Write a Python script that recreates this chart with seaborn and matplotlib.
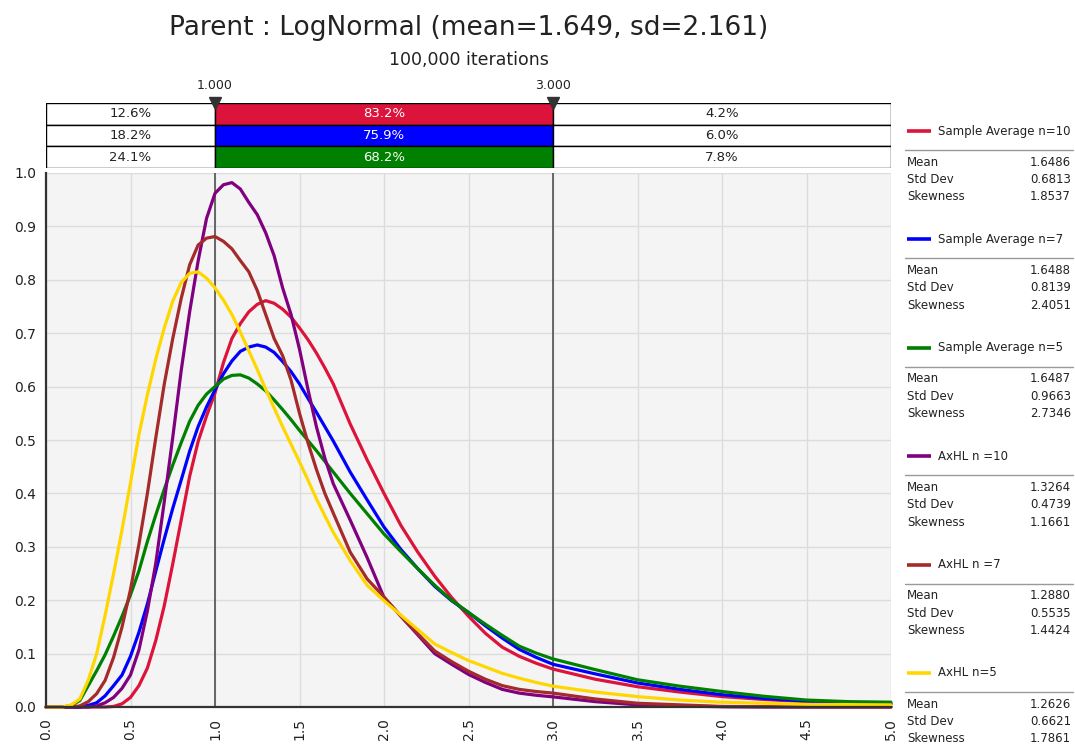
import numpy as np
import pandas as pd
import matplotlib
matplotlib.use("Agg")
import matplotlib.pyplot as plt
import seaborn as sns

# ---------------- data ----------------
x_vals = [0.0, 0.1, 0.15, 0.2, 0.25, 0.3, 0.35, 0.4, 0.45, 0.5,
          0.55, 0.6, 0.65, 0.7, 0.75, 0.8, 0.85, 0.9, 0.95, 1.0,
          1.05, 1.1, 1.15, 1.2, 1.25, 1.3, 1.35, 1.4, 1.45, 1.5,
          1.55, 1.6, 1.65, 1.7, 1.8, 1.9, 2.0, 2.1, 2.2, 2.3,
          2.4, 2.5, 2.6, 2.7, 2.8, 2.9, 3.0, 3.25, 3.5, 3.75,
          4.0, 4.25, 4.5, 4.75, 5.0]

sa10 = [0, 0, 0, 0, 0, 0, 0, 0.001, 0.006, 0.018,
        0.04, 0.073, 0.125, 0.19, 0.268, 0.35, 0.432, 0.497, 0.545, 0.588,
        0.645, 0.69, 0.718, 0.74, 0.754, 0.761, 0.756, 0.745, 0.73, 0.71,
        0.688, 0.663, 0.635, 0.605, 0.53, 0.463, 0.40, 0.34, 0.29, 0.245,
        0.205, 0.17, 0.138, 0.112, 0.095, 0.082, 0.071, 0.052, 0.038, 0.028,
        0.0195, 0.014, 0.01, 0.007, 0.005]
sa7 = [0, 0, 0, 0, 0.003, 0.008, 0.021, 0.04, 0.06, 0.095,
       0.14, 0.193, 0.255, 0.315, 0.372, 0.425, 0.479, 0.525, 0.562, 0.594,
       0.624, 0.648, 0.666, 0.674, 0.678, 0.674, 0.664, 0.647, 0.628, 0.605,
       0.578, 0.552, 0.525, 0.498, 0.44, 0.388, 0.337, 0.295, 0.259, 0.226,
       0.199, 0.177, 0.152, 0.129, 0.108, 0.093, 0.08, 0.062, 0.045, 0.033,
       0.023, 0.016, 0.011, 0.008, 0.006]
sa5 = [0, 0, 0.003, 0.012, 0.04, 0.068, 0.098, 0.133, 0.17, 0.21,
       0.255, 0.31, 0.36, 0.408, 0.453, 0.495, 0.535, 0.565, 0.586, 0.60,
       0.614, 0.621, 0.622, 0.616, 0.605, 0.592, 0.575, 0.557, 0.538, 0.518,
       0.499, 0.48, 0.46, 0.44, 0.40, 0.362, 0.324, 0.291, 0.259, 0.228,
       0.2, 0.177, 0.155, 0.134, 0.114, 0.101, 0.09, 0.07, 0.051, 0.039,
       0.029, 0.02, 0.013, 0.01, 0.009]
ax10 = [0, 0, 0, 0, 0, 0.002, 0.008, 0.018, 0.035, 0.06,
        0.107, 0.18, 0.27, 0.385, 0.505, 0.63, 0.74, 0.835, 0.915, 0.962,
        0.978, 0.982, 0.97, 0.945, 0.922, 0.888, 0.845, 0.785, 0.735, 0.67,
        0.595, 0.525, 0.466, 0.418, 0.35, 0.28, 0.205, 0.17, 0.135, 0.1,
        0.08, 0.061, 0.046, 0.033, 0.026, 0.022, 0.019, 0.01, 0.004, 0.002,
        0.0005, 0, 0, 0, 0]
ax7 = [0, 0, 0, 0.002, 0.01, 0.025, 0.05, 0.093, 0.15, 0.22,
       0.305, 0.40, 0.505, 0.605, 0.69, 0.765, 0.828, 0.865, 0.878, 0.881,
       0.872, 0.858, 0.836, 0.815, 0.78, 0.735, 0.69, 0.658, 0.612, 0.55,
       0.495, 0.445, 0.40, 0.363, 0.29, 0.24, 0.206, 0.17, 0.137, 0.105,
       0.085, 0.067, 0.052, 0.04, 0.033, 0.029, 0.026, 0.015, 0.007, 0.004,
       0.001, 0.0005, 0, 0, 0]
ax5 = [0, 0, 0.004, 0.015, 0.05, 0.10, 0.172, 0.25, 0.332, 0.42,
       0.51, 0.585, 0.652, 0.71, 0.76, 0.795, 0.812, 0.815, 0.803, 0.785,
       0.762, 0.735, 0.702, 0.667, 0.632, 0.595, 0.56, 0.525, 0.492, 0.459,
       0.425, 0.39, 0.358, 0.327, 0.274, 0.228, 0.199, 0.172, 0.145, 0.118,
       0.102, 0.087, 0.075, 0.063, 0.054, 0.046, 0.039, 0.028, 0.0195, 0.013,
       0.009, 0.007, 0.005, 0.0045, 0.004]

series_names = ["Sample Average n=10", "Sample Average n=7", "Sample Average n=5",
                "AxHL n =10", "AxHL n =7", "AxHL n=5"]
series_values = [sa10, sa7, sa5, ax10, ax7, ax5]
colors = ["#DC143C", "#0000FF", "#008000", "#800080", "#A52A2A", "#FFD700"]

means = [1.6486, 1.6488, 1.6487, 1.3264, 1.2880, 1.2626]
sds = [0.6813, 0.8139, 0.9663, 0.4739, 0.5535, 0.6621]
skews = [1.8537, 2.4051, 2.7346, 1.1661, 1.4424, 1.7861]

pct_left = [12.6, 18.2, 24.1]
pct_mid = [83.2, 75.9, 68.2]
pct_right = [4.2, 6.0, 7.8]
lo_mark, hi_mark = 1.0, 3.0
x_min, x_max = 0.0, 5.0

x_ticks = [0.0, 0.5, 1.0, 1.5, 2.0, 2.5, 3.0, 3.5, 4.0, 4.5, 5.0]
y_ticks = [0.0, 0.1, 0.2, 0.3, 0.4, 0.5, 0.6, 0.7, 0.8, 0.9, 1.0]

title = "Parent : LogNormal (mean=1.649, sd=2.161)"
subtitle = "100,000 iterations"

# ---------------- style ----------------
sns.set_theme(style="white")
plt.rcParams["font.family"] = ["DejaVu Sans"]
TXT = "#222222"

W, H = 1075, 746
fig = plt.figure(figsize=(W / 100, H / 100), dpi=100)

# overlay panel in pixel coords (for the stats panel)
axp = fig.add_axes([0, 0, 1, 1])
axp.set_xlim(0, W)
axp.set_ylim(H, 0)
axp.axis("off")

# main axes
L, R, T, B = 46, 891, 173, 707
ax = fig.add_axes([L / W, 1 - B / H, (R - L) / W, (B - T) / H])
ax.set_facecolor("#F4F4F4")

df = pd.concat([
    pd.DataFrame({"x": x_vals, "density": vals, "series": name})
    for name, vals in zip(series_names, series_values)
], ignore_index=True)

sns.lineplot(data=df, x="x", y="density", hue="series",
             hue_order=series_names, palette=dict(zip(series_names, colors)),
             linewidth=2.3, legend=False, ax=ax, sort=False)
for ln in ax.get_lines():
    ln.set_clip_on(False)
    ln.set_solid_joinstyle("round")

ax.set_xlim(x_min, x_max)
ax.set_ylim(0, 1)
ax.set_xticks(x_ticks)
ax.set_xticklabels([f"{v:.1f}" for v in x_ticks], rotation=90, fontsize=10, color=TXT)
ax.set_yticks(y_ticks)
ax.set_yticklabels([f"{v:.1f}" for v in y_ticks], fontsize=10, color=TXT)
ax.grid(True, color="#DCDCDC", linewidth=1)
ax.set_axisbelow(True)
for s in ["top", "right"]:
    ax.spines[s].set_visible(False)
for s in ["left", "bottom"]:
    ax.spines[s].set_color("#333333")
    ax.spines[s].set_linewidth(1.6)
ax.tick_params(axis="both", direction="out", length=4, width=1.2, color="#333333", pad=3)
ax.tick_params(axis="x", pad=4)
ax.set_xlabel("")
ax.set_ylabel("")
ax.axvline(lo_mark, color="#444444", linewidth=1.1, zorder=1)
ax.axvline(hi_mark, color="#444444", linewidth=1.1, zorder=1)

# ---------------- bars above ----------------
BT, BB = 103, 168
axb = fig.add_axes([L / W, 1 - BB / H, (R - L) / W, (BB - BT) / H])
axb.set_xlim(x_min, x_max)
axb.set_ylim(2.5, -0.5)
axb.axis("off")
rows = [0, 1, 2]
axb.barh(rows, [lo_mark - x_min] * 3, left=x_min, height=1, color="white",
         edgecolor="black", linewidth=1)
axb.barh(rows, [hi_mark - lo_mark] * 3, left=lo_mark, height=1, color=colors[:3],
         edgecolor="black", linewidth=1)
axb.barh(rows, [x_max - hi_mark] * 3, left=hi_mark, height=1, color="white",
         edgecolor="black", linewidth=1)
for r in rows:
    axb.text((x_min + lo_mark) / 2, r, f"{pct_left[r]:.1f}%", ha="center", va="center",
             fontsize=9.5, color=TXT)
    axb.text((lo_mark + hi_mark) / 2, r, f"{pct_mid[r]:.1f}%", ha="center", va="center",
             fontsize=9.5, color="white")
    axb.text((hi_mark + x_max) / 2, r, f"{pct_right[r]:.1f}%", ha="center", va="center",
             fontsize=9.5, color=TXT)
axb.plot([lo_mark, hi_mark], [-0.5, -0.5], linestyle="none", marker="v",
         markersize=9, color="#333333", clip_on=False, zorder=5)
for m in (lo_mark, hi_mark):
    axb.annotate(f"{m:.3f}", xy=(m, -0.5), xytext=(0, 8), textcoords="offset points",
                 ha="center", va="bottom", fontsize=9, color=TXT)

# ---------------- titles ----------------
cx = (L + R) / 2 / W
fig.text(cx, 1 - 28 / H, title, ha="center", va="center", fontsize=19, color=TXT)
fig.text(cx, 1 - 60 / H, subtitle, ha="center", va="center", fontsize=12.5, color=TXT)

# ---------------- stats panel ----------------
y0, step = 131, 108.4
for i, name in enumerate(series_names):
    y = y0 + i * step
    axp.plot([907, 931], [y, y], color=colors[i], linewidth=2.6, solid_capstyle="butt")
    axp.text(938, y, name, ha="left", va="center", fontsize=8.5, color=TXT)
    axp.plot([905, 1073], [y + 19, y + 19], color="#999999", linewidth=1)
    for j, (lab, val) in enumerate([("Mean", means[i]), ("Std Dev", sds[i]),
                                     ("Skewness", skews[i])]):
        yy = y + 31 + 17.5 * j
        axp.text(907, yy, lab, ha="left", va="center", fontsize=8.5, color=TXT)
        axp.text(1071, yy, f"{val:.4f}", ha="right", va="center", fontsize=8.5, color=TXT)

fig.savefig("out.png", dpi=100)
